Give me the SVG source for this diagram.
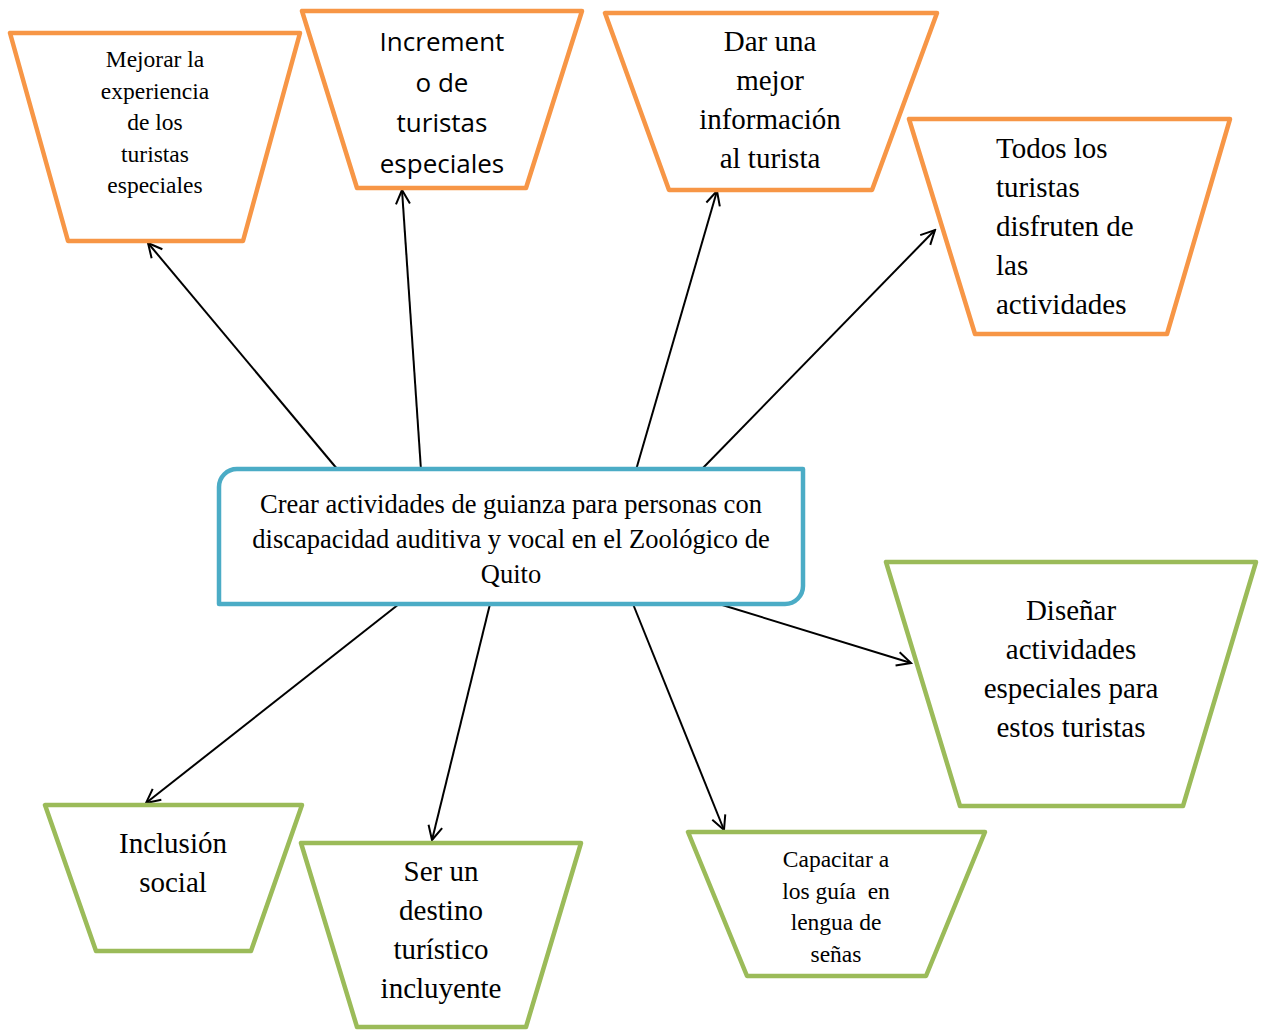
<svg xmlns="http://www.w3.org/2000/svg" width="1265" height="1030" viewBox="0 0 1265 1030">
<style>
.o{fill:#fff;stroke:#F79646;stroke-width:4.5;stroke-linejoin:round}
.g{fill:#fff;stroke:#9BBB59;stroke-width:4.5;stroke-linejoin:round}
.b{fill:#fff;stroke:#4BACC6;stroke-width:4.5;stroke-linejoin:round}
.c{stroke:#000;stroke-width:2;fill:none}
.t{font-family:"Liberation Serif","Times New Roman",serif;fill:#000;text-anchor:middle}
.s{font-family:"Open Sans","Liberation Sans",sans-serif;fill:#000;text-anchor:middle}
</style>
<defs>
<marker id="arr" viewBox="0 0 20 20" refX="18" refY="10" markerWidth="20" markerHeight="20" markerUnits="userSpaceOnUse" orient="auto">
<path d="M4,3 L18,10 L4,17" fill="none" stroke="#000" stroke-width="2"/>
</marker>
</defs>
<rect width="1265" height="1030" fill="#fff"/>
<g id="connectors">
<line class="c" x1="338" y1="470" x2="148" y2="243" marker-end="url(#arr)"/>
<line class="c" x1="421" y1="470" x2="402" y2="190" marker-end="url(#arr)"/>
<line class="c" x1="636" y1="470" x2="717" y2="191" marker-end="url(#arr)"/>
<line class="c" x1="701" y1="470" x2="935" y2="230" marker-end="url(#arr)"/>
<line class="c" x1="399" y1="604" x2="146" y2="803" marker-end="url(#arr)"/>
<line class="c" x1="490" y1="604" x2="432" y2="840" marker-end="url(#arr)"/>
<line class="c" x1="633" y1="604" x2="724" y2="830" marker-end="url(#arr)"/>
<line class="c" x1="719" y1="604" x2="911" y2="663" marker-end="url(#arr)"/>
</g>
<g id="center">
<path class="b" d="M219,604 L219,487 A18,18 0 0 1 237,469 L803,469 L803,586 A18,18 0 0 1 785,604 Z"/>
<text class="t" font-size="26.5" x="511"><tspan x="511" y="513">Crear actividades de guianza para personas con</tspan><tspan x="511" y="548">discapacidad auditiva y vocal en el Zoológico de</tspan><tspan x="511" y="583">Quito</tspan></text>
</g>
<g id="mejorar">
<path class="o" d="M10,33 L300,33 L243,241 L68,241 Z"/>
<text class="t" font-size="23.5"><tspan x="155" y="67">Mejorar la</tspan><tspan x="155" y="98.5">experiencia</tspan><tspan x="155" y="130">de los</tspan><tspan x="155" y="161.5">turistas</tspan><tspan x="155" y="193">especiales</tspan></text>
</g>
<g id="incremento">
<path class="o" d="M302,11 L582,11 L526,188 L357,188 Z"/>
<text class="s" font-size="26"><tspan x="442" y="51">Increment</tspan><tspan x="442" y="92">o de</tspan><tspan x="442" y="132">turistas</tspan><tspan x="442" y="173">especiales</tspan></text>
</g>
<g id="dar">
<path class="o" d="M605,13 L937,13 L872,190 L669,190 Z"/>
<text class="t" font-size="29"><tspan x="770" y="51">Dar una</tspan><tspan x="770" y="90">mejor</tspan><tspan x="770" y="129">información</tspan><tspan x="770" y="168">al turista</tspan></text>
</g>
<g id="todos">
<path class="o" d="M909,119 L1230,119 L1167,334 L975,334 Z"/>
<text class="t" font-size="29" style="text-anchor:start"><tspan x="996" y="158">Todos los</tspan><tspan x="996" y="197">turistas</tspan><tspan x="996" y="236">disfruten de</tspan><tspan x="996" y="275">las</tspan><tspan x="996" y="314">actividades</tspan></text>
</g>
<g id="disenar">
<path class="g" d="M886,562 L1256,562 L1183,806 L960,806 Z"/>
<text class="t" font-size="29"><tspan x="1071" y="620">Diseñar</tspan><tspan x="1071" y="659">actividades</tspan><tspan x="1071" y="698">especiales para</tspan><tspan x="1071" y="737">estos turistas</tspan></text>
</g>
<g id="inclusion">
<path class="g" d="M45,805 L302,805 L251,951 L96,951 Z"/>
<text class="t" font-size="29"><tspan x="173" y="853">Inclusión</tspan><tspan x="173" y="892">social</tspan></text>
</g>
<g id="destino">
<path class="g" d="M301,843 L581,843 L526,1027 L357,1027 Z"/>
<text class="t" font-size="29"><tspan x="441" y="881">Ser un</tspan><tspan x="441" y="920">destino</tspan><tspan x="441" y="959">turístico</tspan><tspan x="441" y="998">incluyente</tspan></text>
</g>
<g id="capacitar">
<path class="g" d="M688,832 L985,832 L926,976 L747,976 Z"/>
<text class="t" font-size="23.5"><tspan x="836" y="867">Capacitar a</tspan><tspan x="836" y="898.5">los guía&#160; en</tspan><tspan x="836" y="930">lengua de</tspan><tspan x="836" y="962">señas</tspan></text>
</g>
</svg>
